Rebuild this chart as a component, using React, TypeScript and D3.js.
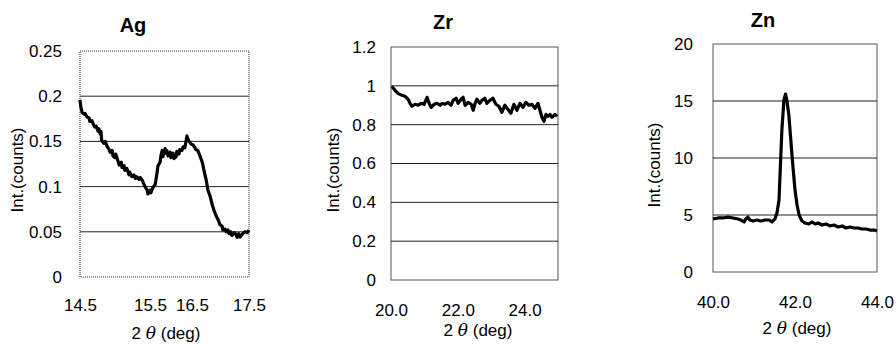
import React, { useEffect, useRef } from 'react';
import * as d3 from 'd3';

// Ag scan, 14.5 - 17.5 deg
const agAngle = [
  14.5, 14.51, 14.53, 14.56, 14.57, 14.6, 14.63, 14.64, 14.67, 14.69, 14.71, 14.73, 14.76, 14.77,
  14.79, 14.8, 14.81, 14.84, 14.86, 14.89, 14.91, 14.93, 14.96, 14.97, 15.0, 15.01, 15.04, 15.06,
  15.09, 15.1, 15.13, 15.14, 15.17, 15.2, 15.21, 15.24, 15.27, 15.29, 15.31, 15.34, 15.36, 15.39,
  15.41, 15.43, 15.46, 15.47, 15.5, 15.52, 15.57, 15.62, 15.64, 15.67, 15.69, 15.74, 15.76, 15.79,
  15.81, 15.83, 15.86, 15.88, 15.9, 15.93, 15.98, 16.0, 16.05, 16.07, 16.12, 16.14, 16.19, 16.21,
  16.26, 16.29, 16.33, 16.36, 16.38, 16.4, 16.43, 16.45, 16.48, 16.52, 16.55, 16.57, 16.6, 16.62,
  16.64, 16.68, 16.71, 16.75, 16.78, 16.82, 16.85, 16.89, 16.92, 16.96, 16.99, 17.03, 17.04, 17.08,
  17.1, 17.13, 17.15, 17.18, 17.2, 17.24, 17.27, 17.29, 17.32, 17.34, 17.38, 17.39, 17.43, 17.47, 17.5,
];
const agInt = [
  0.196, 0.189, 0.182, 0.18, 0.181, 0.177, 0.176, 0.172, 0.173, 0.169, 0.166, 0.167, 0.161, 0.164,
  0.158, 0.161, 0.151, 0.148, 0.15, 0.144, 0.142, 0.138, 0.14, 0.134, 0.132, 0.136, 0.129, 0.124,
  0.127, 0.121, 0.123, 0.118, 0.12, 0.113, 0.116, 0.111, 0.113, 0.109, 0.111, 0.108, 0.11, 0.107,
  0.103, 0.1, 0.096, 0.092, 0.096, 0.093, 0.099, 0.102, 0.107, 0.116, 0.123, 0.127, 0.134, 0.14,
  0.133, 0.138, 0.142, 0.137, 0.14, 0.134, 0.138, 0.132, 0.137, 0.131, 0.133, 0.139, 0.136, 0.141,
  0.14, 0.144, 0.143, 0.151, 0.156, 0.153, 0.15, 0.149, 0.147, 0.146, 0.143, 0.141, 0.14, 0.137,
  0.134, 0.127, 0.118, 0.107, 0.096, 0.089, 0.081, 0.073, 0.068, 0.063, 0.058, 0.056, 0.052, 0.053,
  0.05, 0.052, 0.048, 0.05, 0.046, 0.049, 0.047, 0.044, 0.048, 0.044, 0.047, 0.048, 0.05, 0.049, 0.052,
];
const agXTicks = [14.5, 15.5, 16.5, 17.5];
const agYTicks = [0, 0.05, 0.1, 0.15, 0.2, 0.25];

// Zr scan, 20 - 25 deg
const zrAngle = [
  20.03, 20.12, 20.21, 20.33, 20.42, 20.51, 20.57, 20.63, 20.72, 20.81, 20.9, 20.99, 21.08, 21.14,
  21.2, 21.29, 21.38, 21.47, 21.53, 21.62, 21.71, 21.8, 21.86, 21.95, 22.01, 22.1, 22.16, 22.22,
  22.31, 22.4, 22.46, 22.51, 22.57, 22.66, 22.72, 22.81, 22.87, 22.96, 23.05, 23.14, 23.23, 23.32,
  23.41, 23.5, 23.59, 23.68, 23.77, 23.86, 23.95, 24.04, 24.13, 24.22, 24.31, 24.4, 24.46, 24.52,
  24.58, 24.64, 24.7, 24.76, 24.82, 24.91, 24.97,
];
const zrInt = [
  0.997, 0.977, 0.961, 0.951, 0.946, 0.931, 0.91, 0.895, 0.905, 0.9, 0.91, 0.905, 0.941, 0.91,
  0.889, 0.905, 0.91, 0.9, 0.91, 0.905, 0.915, 0.9, 0.925, 0.936, 0.91, 0.931, 0.941, 0.9,
  0.915, 0.905, 0.874, 0.905, 0.931, 0.91, 0.925, 0.936, 0.91, 0.925, 0.936, 0.905, 0.895, 0.864,
  0.9, 0.879, 0.859, 0.905, 0.874, 0.91, 0.889, 0.915, 0.9, 0.905, 0.884, 0.91, 0.874, 0.838,
  0.817, 0.853, 0.843, 0.853, 0.838, 0.853, 0.843,
];
const zrXTicks = [20, 22, 24];
const zrYTicks = [0, 0.2, 0.4, 0.6, 0.8, 1, 1.2];

// Zn scan, 40 - 44 deg
const znAngle = [
  40.0, 40.12, 40.24, 40.37, 40.49, 40.61, 40.68, 40.76, 40.8, 40.85, 40.9, 40.98, 41.07, 41.17,
  41.27, 41.37, 41.44, 41.51, 41.56, 41.61, 41.63, 41.68, 41.73, 41.77, 41.8, 41.85, 41.93, 42.0,
  42.05, 42.1, 42.17, 42.24, 42.34, 42.41, 42.49, 42.56, 42.66, 42.76, 42.85, 42.95, 43.05, 43.15,
  43.24, 43.34, 43.44, 43.54, 43.63, 43.73, 43.83, 43.93, 44.0,
];
const znInt = [
  4.65, 4.74, 4.74, 4.82, 4.74, 4.65, 4.56, 4.39, 4.65, 4.82, 4.56, 4.47, 4.56, 4.47,
  4.56, 4.56, 4.39, 4.65, 5.18, 6.32, 8.07, 12.46, 15.09, 15.61, 15.09, 13.77, 10.09, 7.19,
  5.88, 5.0, 4.47, 4.3, 4.21, 4.39, 4.21, 4.3, 4.12, 4.21, 4.04, 4.12, 3.95, 4.04,
  3.86, 3.95, 3.86, 3.86, 3.77, 3.77, 3.68, 3.68, 3.6,
];
const znXTicks = [40, 42, 44];
const znYTicks = [0, 5, 10, 15, 20];

const FONT = '"Liberation Sans", Arial, sans-serif';

interface Panel {
  title: string;
  angle: number[];
  intensity: number[];
  xTicks: number[];
  yTicks: number[];
  xDomain: number[];
  xRange: number[];
  xFormat: (v: number) => string;
  left: number;
  right: number;
  top: number;
  bottom: number;
  titleX: number;
  titleY: number;
  xPad: number;
  yPad: number;
  yTitleX: number;
  yTitleY: number;
  xTitleX: number;
  xTitleY: number;
  dotted?: boolean;
}

const panels: Panel[] = [
  {
    title: 'Ag', angle: agAngle, intensity: agInt, xTicks: agXTicks, yTicks: agYTicks,
    xDomain: agXTicks, xRange: [80, 150, 192, 249], xFormat: d3.format('.1f'),
    left: 80, right: 249, top: 51, bottom: 277, titleX: 133, titleY: 32,
    xPad: 22, yPad: 18, yTitleX: 17, yTitleY: 170, xTitleX: 166, xTitleY: 339, dotted: true,
  },
  {
    title: 'Zr', angle: zrAngle, intensity: zrInt, xTicks: zrXTicks, yTicks: zrYTicks,
    xDomain: [20, 25], xRange: [391, 558], xFormat: d3.format('.1f'),
    left: 391, right: 558, top: 47, bottom: 280, titleX: 443, titleY: 29,
    xPad: 24, yPad: 15, yTitleX: 333, yTitleY: 170, xTitleX: 478, xTitleY: 336,
  },
  {
    title: 'Zn', angle: znAngle, intensity: znInt, xTicks: znXTicks, yTicks: znYTicks,
    xDomain: [40, 44], xRange: [713, 877], xFormat: d3.format('.1f'),
    left: 713, right: 877, top: 44, bottom: 272, titleX: 763, titleY: 27,
    xPad: 24, yPad: 20, yTitleX: 654, yTitleY: 165, xTitleX: 797, xTitleY: 334,
  },
];

const App = (): React.ReactElement => {
  const svgRef = useRef<SVGSVGElement>(null);

  useEffect(() => {
    if (!svgRef.current) return;
    const svg = d3.select(svgRef.current);
    svg.selectAll('*').remove();

    panels.forEach((p) => {
      const g = svg.append('g');
      const x = d3.scaleLinear().domain(p.xDomain).range(p.xRange);
      const yMax = p.yTicks[p.yTicks.length - 1];
      const y = d3.scaleLinear().domain([0, yMax]).range([p.bottom, p.top]);

      // frame
      g.append('rect')
        .attr('x', p.left)
        .attr('y', p.top)
        .attr('width', p.right - p.left)
        .attr('height', p.bottom - p.top)
        .attr('fill', '#fff')
        .attr('stroke', p.dotted ? '#777' : '#555')
        .attr('stroke-width', p.dotted ? 1.5 : 1)
        .attr('stroke-dasharray', p.dotted ? '1,1' : null);

      // grid
      g.append('g')
        .selectAll('line')
        .data(p.yTicks.slice(1, -1))
        .join('line')
        .attr('x1', p.left)
        .attr('x2', p.right)
        .attr('y1', (d) => y(d))
        .attr('y2', (d) => y(d))
        .attr('stroke', '#222')
        .attr('stroke-width', 1);

      // axes (labels only)
      const ax = g.append('g')
        .attr('transform', `translate(0,${p.bottom})`)
        .call(d3.axisBottom(x).tickValues(p.xTicks).tickFormat((d) => p.xFormat(d as number)).tickSize(0).tickPadding(p.xPad));
      const ay = g.append('g')
        .attr('transform', `translate(${p.left},0)`)
        .call(d3.axisLeft(y).tickValues(p.yTicks).tickFormat((d) => String(d)).tickSize(0).tickPadding(p.yPad));
      [ax, ay].forEach((a) => {
        a.select('.domain').remove();
        a.selectAll('text').attr('font-size', 17).attr('font-family', FONT).attr('fill', '#000');
      });

      // curve
      const pts = p.angle.map((a, i) => [a, p.intensity[i]] as [number, number]);
      g.append('path')
        .datum(pts)
        .attr('fill', 'none')
        .attr('stroke', '#000')
        .attr('stroke-width', 3.2)
        .attr('stroke-linejoin', 'round')
        .attr('d', d3.line().x((d) => x(d[0])).y((d) => y(d[1])));

      // titles
      g.append('text')
        .attr('x', p.titleX)
        .attr('y', p.titleY)
        .attr('text-anchor', 'middle')
        .attr('font-family', FONT)
        .attr('font-weight', 'bold')
        .attr('font-size', 20)
        .text(p.title);

      g.append('text')
        .attr('transform', `translate(${p.yTitleX},${p.yTitleY}) rotate(-90)`)
        .attr('text-anchor', 'middle')
        .attr('dy', '0.35em')
        .attr('font-family', FONT)
        .attr('font-size', 17)
        .text('Int.(counts)');

      const xt = g.append('text')
        .attr('x', p.xTitleX)
        .attr('y', p.xTitleY)
        .attr('text-anchor', 'middle')
        .attr('font-family', FONT)
        .attr('font-size', 17);
      xt.append('tspan').text('2 ');
      xt.append('tspan').attr('font-style', 'italic').attr('font-family', '"DejaVu Serif", serif').text('θ');
      xt.append('tspan').text(' (deg)');
    });
  }, []);

  return (
    <svg
      ref={svgRef}
      width={896}
      height={350}
      style={{ position: 'absolute', left: 0, top: 0, background: '#fff' }}
    />
  );
};

export default App;
